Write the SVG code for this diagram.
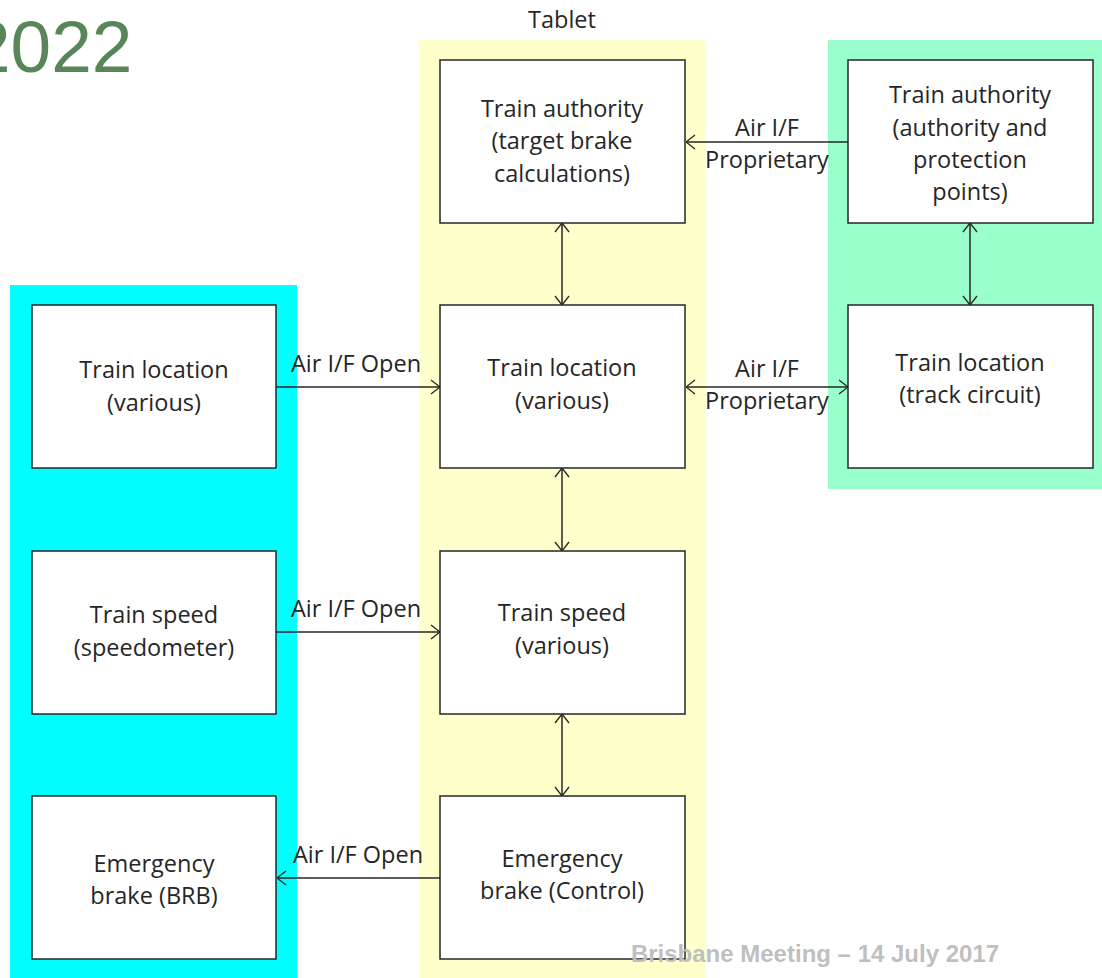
<svg xmlns="http://www.w3.org/2000/svg" width="1102" height="978" viewBox="0 0 1102 978">
<style>
.box{fill:#fff;stroke:#262626;stroke-width:1.5}
.t{font-family:"Open Sans","Liberation Sans",sans-serif;font-size:23.5px;fill:#262626;text-anchor:middle}
.c{stroke:#262626;stroke-width:1.5;fill:none;marker-start:url(#a);marker-end:url(#a)}
.e{stroke:#262626;stroke-width:1.5;fill:none;marker-end:url(#a)}
</style>
<defs>
<marker id="a" viewBox="0 0 10 16" refX="10" refY="8" markerWidth="10" markerHeight="16" markerUnits="userSpaceOnUse" orient="auto-start-reverse">
<path d="M1,1 L10,8 L1,15" fill="none" stroke="#262626" stroke-width="1.3"/>
</marker>
</defs>
<rect width="1102" height="978" fill="#fff"/>
<g id="bands">
<rect x="419" y="40" width="286" height="938" fill="#FFFFCC"/>
<rect x="10" y="285" width="287" height="693" fill="#00FFFF"/>
<rect x="828" y="40" width="274" height="449" fill="#99FFCC"/>
</g>
<text x="-30" y="72" font-family="Liberation Sans,Arial,sans-serif" font-size="73" fill="#588658">2022</text>
<text x="562" y="28" class="t">Tablet</text>
<g id="connectors">
<line class="e" x1="848" y1="142" x2="686" y2="142"/>
<line class="c" x1="686" y1="387" x2="848" y2="387"/>
<line class="e" x1="276" y1="387" x2="440" y2="387"/>
<line class="e" x1="276" y1="632" x2="440" y2="632"/>
<line class="e" x1="440" y1="878" x2="277" y2="878"/>
<line class="c" x1="562" y1="223" x2="562" y2="305"/>
<line class="c" x1="562" y1="468" x2="562" y2="551"/>
<line class="c" x1="562" y1="714" x2="562" y2="796"/>
<line class="c" x1="970" y1="223" x2="970" y2="305"/>
<text class="t" x="767" y="136">Air I/F</text>
<text class="t" x="767" y="168">Proprietary</text>
<text class="t" x="767" y="377">Air I/F</text>
<text class="t" x="767" y="409">Proprietary</text>
<text class="t" x="356" y="372">Air I/F Open</text>
<text class="t" x="356" y="617">Air I/F Open</text>
<text class="t" x="358" y="863">Air I/F Open</text>
</g>
<g id="n1"><rect class="box" x="440" y="60" width="245" height="163"/>
<text class="t" x="562" y="117">Train authority</text><text class="t" x="562" y="149">(target brake</text><text class="t" x="562" y="182">calculations)</text></g>
<g id="n2"><rect class="box" x="440" y="305" width="245" height="163"/>
<text class="t" x="562" y="376">Train location</text><text class="t" x="562" y="409">(various)</text></g>
<g id="n3"><rect class="box" x="440" y="551" width="245" height="163"/>
<text class="t" x="562" y="621">Train speed</text><text class="t" x="562" y="654">(various)</text></g>
<g id="n4"><rect class="box" x="440" y="796" width="245" height="163"/>
<text class="t" x="562" y="867">Emergency</text><text class="t" x="562" y="899">brake (Control)</text></g>
<g id="n5"><rect class="box" x="32" y="305" width="244" height="163"/>
<text class="t" x="154" y="378">Train location</text><text class="t" x="154" y="411">(various)</text></g>
<g id="n6"><rect class="box" x="32" y="551" width="244" height="163"/>
<text class="t" x="154" y="623">Train speed</text><text class="t" x="154" y="656">(speedometer)</text></g>
<g id="n7"><rect class="box" x="32" y="796" width="244" height="163"/>
<text class="t" x="154" y="872">Emergency</text><text class="t" x="154" y="904">brake (BRB)</text></g>
<g id="n8"><rect class="box" x="848" y="60" width="245" height="163"/>
<text class="t" x="970" y="103">Train authority</text><text class="t" x="970" y="136">(authority and</text><text class="t" x="970" y="168">protection</text><text class="t" x="970" y="200">points)</text></g>
<g id="n9"><rect class="box" x="848" y="305" width="245" height="163"/>
<text class="t" x="970" y="371">Train location</text><text class="t" x="970" y="403">(track circuit)</text></g>
<text x="815" y="962" text-anchor="middle" font-family="Liberation Sans,Arial,sans-serif" font-weight="bold" font-size="24" fill="#BFBFBF">Brisbane Meeting – 14 July 2017</text>
</svg>
